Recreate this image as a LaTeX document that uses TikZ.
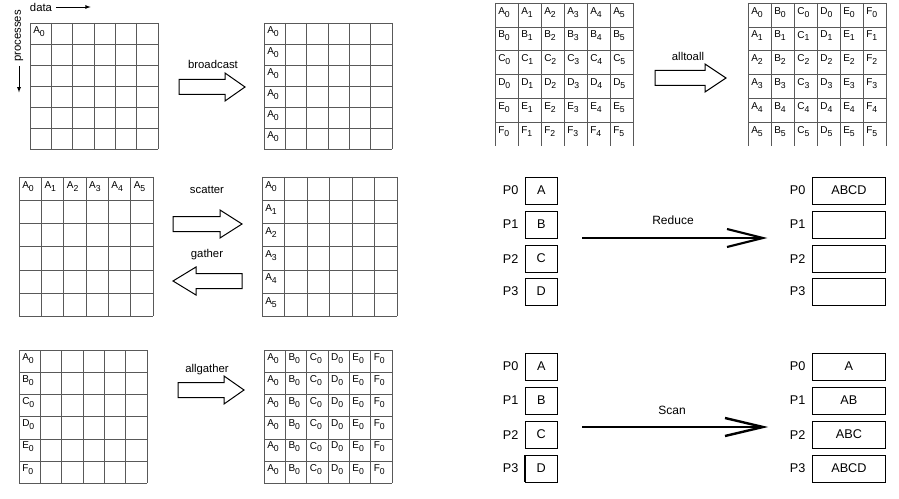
\documentclass[tikz,border=0pt]{standalone}
\usepackage{fontspec}
\setmainfont{Liberation Sans}
\usetikzlibrary{positioning}

\tikzset{
	cell/.style={anchor=north west,inner sep=0.75pt,font=\fontsize{7.5}{8}\selectfont},
	proc/.style={anchor=east,inner sep=0.75pt,font=\fontsize{9.5}{10}\selectfont},
	box/.style={draw,anchor=north west,inner sep=0pt,font=\fontsize{9.5}{10}\selectfont},
	opname/.style={inner sep=0.75pt,font=\fontsize{8.5}{10}\selectfont},
	hollow/.style={line width=0.75pt},
}
\newcommand{\sub}[1]{\raisebox{-2.2pt}{\fontsize{6.5}{7}\selectfont#1}}
% #1,#2 top left, #3 cell width, #4 cell height
\newcommand{\cellgrid}[4]{
	\foreach \i in {0,...,6} \draw [gray!70!black] (#1+\i*#3,#2) -- (#1+\i*#3,#2+6*#4);
	\foreach \j in {0,...,6} \draw [gray!70!black] (#1,#2+\j*#4) -- (#1+6*#3,#2+\j*#4);
}
\newcommand{\opengrid}[4]{
	\foreach \i in {0,...,6} \draw [gray!70!black] (#1+\i*#3,#2) -- (#1+\i*#3,#2+6*#4);
	\foreach \j in {0,...,5} \draw [gray!70!black] (#1,#2+\j*#4) -- (#1+6*#3,#2+\j*#4);
}
% tail x, head base x, tip x, mid y
\newcommand{\fatarrow}[4]{
	\draw [hollow] (#1,#4-7.5) -- (#2,#4-7.5) -- (#2,#4-14) -- (#3,#4) -- (#2,#4+14) -- (#2,#4+7.5) -- (#1,#4+7.5) -- cycle;
}

\begin{document}
\begin{tikzpicture}[x=0.75pt,y=0.75pt,yscale=-1,xscale=1]
	\useasboundingbox (0,0) rectangle (899,499);
	% broadcast
	\cellgrid{30}{23}{21.3}{21}
	\cellgrid{264}{23}{21.3}{21}
	\node [cell] (b0) at (32,25) {A\sub{0}};
	\foreach \r in {0,...,5} \node [cell] (bc\r) at (266,25+\r*21) {A\sub{0}};
	\node [opname] (data) at (41,7) {data};
	\coordinate [right=2pt of data] (d1);
	\coordinate [right=26pt of d1] (d2);
	\draw [-latex] (d1) -- (d2);
	\node [opname,rotate=90] (procs) at (19,36) {processes};
	\coordinate [below=2pt of procs.west] (p1);
	\coordinate [below=20pt of p1] (p2);
	\draw [-latex] (p1) -- (p2);
	\fatarrow{179}{225}{245}{87}
	\node [opname] (bcast) at (213,64) {broadcast};
	% alltoall
	\opengrid{495}{3}{23}{23.8}
	\opengrid{748}{3}{23}{23.8}
	\foreach \l [count=\r from 0] in {A,B,C,D,E,F}
		\foreach \c in {0,...,5} {
			\node [cell] (in\l\c) at (497+\c*23,6+\r*23.8) {\l\sub{\c}};
			\node [cell] (out\l\c) at (750+\r*23,6+\c*23.8) {\l\sub{\c}};
		}
	\fatarrow{655}{705}{726}{78}
	\node [opname] (a2a) at (688,56) {alltoall};
	% scatter / gather
	\cellgrid{19}{177}{22.3}{23.2}
	\cellgrid{262}{177}{22.5}{23.2}
	\foreach \c in {0,...,5} {
		\node [cell] (sc\c) at (21+\c*22.3,180) {A\sub{\c}};
		\node [cell] (ga\c) at (264,180+\c*23.2) {A\sub{\c}};
	}
	\fatarrow{173}{220}{242}{224}
	\fatarrow{242}{196}{173}{281}
	\node [opname] (scatter) at (207,190) {scatter};
	\node [opname] (gather) at (207,255) {gather};
	% allgather
	\cellgrid{19}{350}{21.3}{22.2}
	\cellgrid{264}{350}{21.3}{22.2}
	\foreach \l [count=\r from 0] in {A,B,C,D,E,F} {
		\node [cell] (ag\l) at (21,352+\r*22.2) {\l\sub{0}};
		\foreach \k [count=\c from 0] in {A,B,C,D,E,F}
			\node [cell] (agr\r\k) at (266+\c*21.3,352+\r*22.2) {\k\sub{0}};
	}
	\fatarrow{178}{224}{244}{390}
	\node [opname] (allg) at (207,370) {allgather};
	% reduce
	\foreach \p/\t/\y in {0/A/177,1/B/211,2/C/245,3/D/278} {
		\node [box,minimum width=24pt,minimum height=20pt] (rin\p) at (525,\y) {\t};
		\node [proc,left=4pt of rin\p] (rpl\p) {P\p};
	}
	\foreach \p/\t/\y in {0/ABCD/177,1/{}/211,2/{}/245,3/{}/278} {
		\node [box,minimum width=55pt,minimum height=20pt] (rout\p) at (812,\y) {\t};
		\node [proc,left=4pt of rout\p] (rpr\p) {P\p};
	}
	\coordinate (rs) at (582,238);
	\coordinate (re) at (763,238);
	\draw [line width=0.9pt] (rs) -- (re);
	\draw [line width=1.6pt] (727,229) -- (re) -- (727,247);
	\node [opname,font=\fontsize{9}{10}\selectfont] (reduce) at (673,220) {Reduce};
	% scan
	\foreach \p/\t/\y in {0/A/353,1/B/387,2/C/421,3/D/455} {
		\node [box,minimum width=24pt,minimum height=20pt] (sin\p) at (525,\y) {\t};
		\node [proc,left=4pt of sin\p] (spl\p) {P\p};
	}
	\foreach \p/\t/\y in {0/A/353,1/AB/387,2/ABC/421,3/ABCD/455} {
		\node [box,minimum width=55pt,minimum height=20pt] (sout\p) at (812,\y) {\t};
		\node [proc,left=4pt of sout\p] (spr\p) {P\p};
	}
	\draw [line width=1.2pt] (sin3.north west) -- (sin3.south west);
	\coordinate (ss) at (582,427);
	\coordinate (se) at (763,427);
	\draw [line width=1.3pt] (ss) -- (se);
	\draw [line width=1.8pt] (725,418) -- (se) -- (725,436);
	\node [opname,font=\fontsize{9}{10}\selectfont] (scan) at (672,410) {Scan};
\end{tikzpicture}
\end{document}
